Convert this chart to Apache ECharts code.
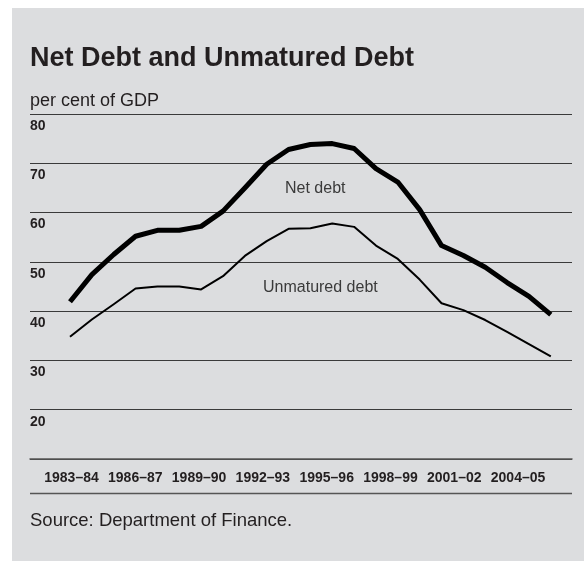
<!DOCTYPE html>
<html>
<head>
<meta charset="utf-8">
<script src="https://cdn.jsdelivr.net/npm/echarts@6/dist/echarts.min.js"></script>
<style>
html,body{margin:0;padding:0;background:#fff;}
#chart{width:584px;height:562px;}
</style>
</head>
<body>
<div id="chart"></div>
<script>
// ---- data ----
var categories = ["1983–84","1984–85","1985–86","1986–87","1987–88","1988–89","1989–90","1990–91","1991–92","1992–93","1993–94","1994–95","1995–96","1996–97","1997–98","1998–99","1999–00","2000–01","2001–02","2002–03","2003–04","2004–05","2005–06"];
var netDebt = [41.9, 47.4, 51.5, 55.2, 56.4, 56.4, 57.2, 60.3, 65.0, 69.8, 72.8, 73.8, 74.0, 73.0, 68.9, 66.2, 60.6, 53.3, 51.3, 48.9, 45.8, 43.0, 39.3];
var unmaturedDebt = [34.8, 38.3, 41.4, 44.6, 45.0, 45.0, 44.4, 47.1, 51.2, 54.2, 56.7, 56.8, 57.8, 57.1, 53.3, 50.6, 46.4, 41.6, 40.2, 38.2, 35.8, 33.3, 30.8];
var yTicks = [10, 20, 30, 40, 50, 60, 70, 80];
var titleText = "Net Debt and Unmatured Debt";
var unitText = "per cent of GDP";
var sourceText = "Source: Department of Finance.";

var FONT = "'Liberation Sans', Arial, Helvetica, sans-serif";
var INK = "#231f20";

function pairs(arr){ return arr.map(function(v,i){ return [i, v]; }); }

var chart = echarts.init(document.getElementById('chart'), null, {renderer:'canvas'});
var option = {
  backgroundColor: '#ffffff',
  animation: false,
  graphic: [
    {type:'rect', z:-10, shape:{x:12, y:8, width:572, height:553}, style:{fill:'#dcdddf'}},
    {type:'text', left:30, top:45, style:{text:titleText, font:'bold 27px ' + FONT, fill:INK}},
    {type:'text', left:30, top:92, style:{text:unitText, font:'18px ' + FONT, fill:INK}},
    {type:'line', shape:{x1:30, y1:493.5, x2:572, y2:493.5}, style:{stroke:'#555', lineWidth:1.5}},
    {type:'text', left:30, top:511, style:{text:sourceText, font:'18.5px ' + FONT, fill:INK}},
    {type:'text', left:285, top:181, style:{text:'Net debt', font:'16px ' + FONT, fill:'#3a3a3a'}},
    {type:'text', left:263, top:280, style:{text:'Unmatured debt', font:'16px ' + FONT, fill:'#3a3a3a'}}
  ],
  grid: [
    {left:30, right:12, top:114, bottom:103},
    {left:71.5, right:44.7, top:114, bottom:103}
  ],
  xAxis: [
    {type:'value', gridIndex:0, min:-1.83, max:22.97,
     axisLine:{show:true, lineStyle:{color:'#555', width:1.5}},
     axisTick:{show:false}, axisLabel:{show:false}, splitLine:{show:false}},
    {type:'category', gridIndex:1, data:categories, boundaryGap:false,
     axisLine:{show:false}, axisTick:{show:false},
     axisLabel:{interval:2, margin:12, color:INK, fontFamily:FONT, fontWeight:'bold', fontSize:14}}
  ],
  yAxis: [
    {type:'value', gridIndex:0, min:yTicks[0], max:yTicks[yTicks.length-1], interval:10,
     axisLine:{show:false}, axisTick:{show:false},
     splitLine:{show:true, lineStyle:{color:'#3a3a3a', width:1.2}},
     axisLabel:{inside:true, margin:0, align:'left', verticalAlign:'top', padding:[5,0,0,0],
       color:INK, fontFamily:FONT, fontWeight:'bold', fontSize:14,
       formatter:function(v){ return v === yTicks[0] ? '' : String(v); }}},
    {type:'value', gridIndex:1, min:10, max:80, show:false}
  ],
  series: [
    {type:'line', name:'Net debt', xAxisIndex:0, yAxisIndex:0, data:pairs(netDebt), symbol:'none',
     lineStyle:{color:'#000', width:5, join:'round'}},
    {type:'line', name:'Unmatured debt', xAxisIndex:0, yAxisIndex:0, data:pairs(unmaturedDebt), symbol:'none',
     lineStyle:{color:'#000', width:2, join:'round'}}
  ]
};
chart.setOption(option);
</script>
</body>
</html>
